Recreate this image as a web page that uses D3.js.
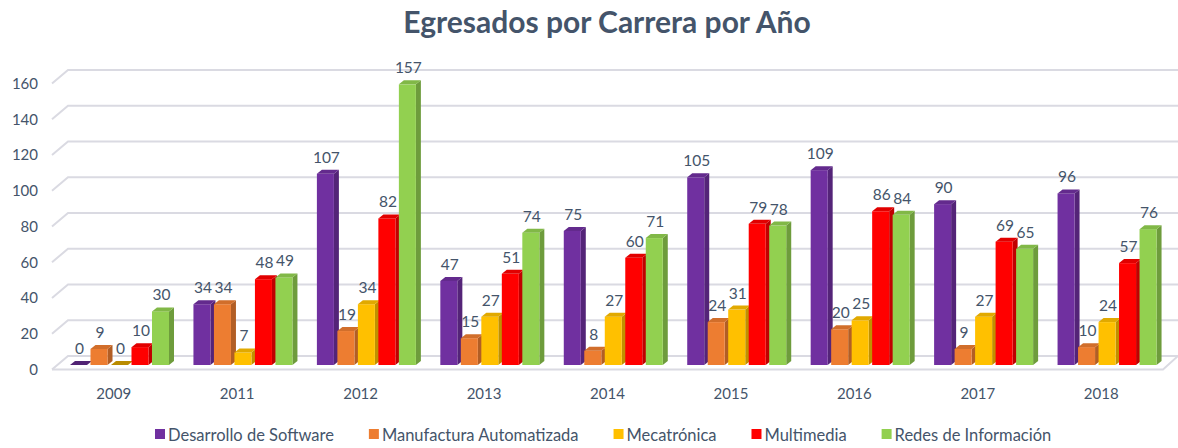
<!DOCTYPE html>
<html>
<head>
<meta charset="utf-8">
<script src="https://cdn.jsdelivr.net/npm/d3@7"></script>
<style>
  body { margin: 0; background: #fff; }
  text { font-family: Lato, "Open Sans", sans-serif; }
</style>
</head>
<body>
<svg id="chart" width="1178" height="448"></svg>
<script>
// data
var years = ["2009", "2011", "2012", "2013", "2014", "2015", "2016", "2017", "2018"];
var series = ["Desarrollo de Software", "Manufactura Automatizada", "Mecatrónica", "Multimedia", "Redes de Información"];
var software = [0, 34, 107, 47, 75, 105, 109, 90, 96];
var manufactura = [9, 34, 19, 15, 8, 24, 20, 9, 10];
var mecatronica = [0, 7, 34, 27, 27, 31, 25, 27, 24];
var multimedia = [10, 48, 82, 51, 60, 79, 86, 69, 57];
var redes = [30, 49, 157, 74, 71, 78, 84, 65, 76];
var yTicks = [0, 20, 40, 60, 80, 100, 120, 140, 160];

var values = [software, manufactura, mecatronica, multimedia, redes];
var colors = ["#7030A0", "#ED7D31", "#FFC000", "#FF0000", "#92D050"];

var svg = d3.select("#chart");

// -- title
svg.append("text")
  .attr("x", 607)
  .attr("y", 33)
  .attr("text-anchor", "middle")
  .attr("font-size", 30)
  .attr("font-weight", "bold")
  .attr("fill", "#44546A")
  .text("Egresados por Carrera por Año");

// -- scales
var x = d3.scaleBand().domain(years).range([52, 1163]);
var x1 = d3.scaleBand().domain(series).range([18, 117]).paddingInner(0.17);
var y = d3.scaleLinear().domain([0, 160]).range([365, 79]);
var base = y(0);

// depth of the back wall and of each bar
var wallDx = 16, wallFront = 4.5, wallBack = -9;
var dx = 5, dy = 4;

// -- gridlines (back wall + left diagonal)
var grid = svg.append("g");
yTicks.forEach(function(t) {
  grid.append("path")
    .attr("d", "M52," + (y(t) + wallFront) + "L" + (52 + wallDx) + "," + (y(t) + wallBack) + "L1178," + (y(t) + wallBack))
    .attr("fill", "none")
    .attr("stroke", "#DADAE2")
    .attr("stroke-width", 2);
});
// floor front edge
grid.append("path")
  .attr("d", "M52," + (base + wallFront) + "L1163," + (base + wallFront) + "L1178," + (base + wallBack))
  .attr("fill", "none")
  .attr("stroke", "#DADAE2")
  .attr("stroke-width", 2);

// -- y axis labels
svg.append("g").selectAll("text")
  .data(yTicks)
  .enter()
  .append("text")
  .attr("x", 38)
  .attr("y", function(t) { return y(t) + wallFront; })
  .attr("dy", "0.35em")
  .attr("text-anchor", "end")
  .attr("font-size", 15)
  .attr("fill", "#44546A")
  .text(function(t) { return t; });

// -- x axis labels
svg.append("g").selectAll("text")
  .data(years)
  .enter()
  .append("text")
  .attr("x", function(d) { return x(d) + x.bandwidth() / 2; })
  .attr("y", 399)
  .attr("text-anchor", "middle")
  .attr("font-size", 15)
  .attr("fill", "#44546A")
  .text(function(d) { return d; });

// -- bars
var bars = [];
series.forEach(function(s, si) {
  years.forEach(function(yr, yi) {
    bars.push({ s: s, si: si, yr: yr, v: values[si][yi] });
  });
});

var g = svg.append("g");
bars.forEach(function(b) {
  var bx = x(b.yr) + x1(b.s), w = x1.bandwidth(), top = y(b.v);
  var c = d3.color(colors[b.si]);
  // side face
  g.append("path")
    .attr("d", "M" + (bx + w) + "," + top + "L" + (bx + w + dx) + "," + (top - dy) +
      "L" + (bx + w + dx) + "," + (base - dy) + "L" + (bx + w) + "," + base + "Z")
    .attr("fill", c.darker(0.8));
  // front face
  g.append("rect")
    .attr("x", bx)
    .attr("y", top)
    .attr("width", w)
    .attr("height", base - top)
    .attr("fill", c);
  // top face
  g.append("path")
    .attr("d", "M" + bx + "," + top + "L" + (bx + dx) + "," + (top - dy) +
      "L" + (bx + w + dx) + "," + (top - dy) + "L" + (bx + w) + "," + top + "Z")
    .attr("fill", b.v === 0 ? c.darker(0.9) : c.darker(0.35));
  // value label
  g.append("text")
    .attr("x", bx + w / 2 + 1)
    .attr("y", top - 11)
    .attr("text-anchor", "middle")
    .attr("font-size", 15.5)
    .attr("fill", "#44546A")
    .text(b.v);
});

// -- legend
var legend = svg.append("g");
var lx = 155;
series.forEach(function(s, i) {
  legend.append("rect")
    .attr("x", lx)
    .attr("y", 429)
    .attr("width", 10)
    .attr("height", 10)
    .attr("fill", colors[i]);
  var t = legend.append("text")
    .attr("x", lx + 13)
    .attr("y", 441)
    .attr("font-size", 16.5)
    .attr("fill", "#44546A")
    .text(s);
  lx += 13 + t.node().getComputedTextLength() + 35;
});
</script>
</body>
</html>
